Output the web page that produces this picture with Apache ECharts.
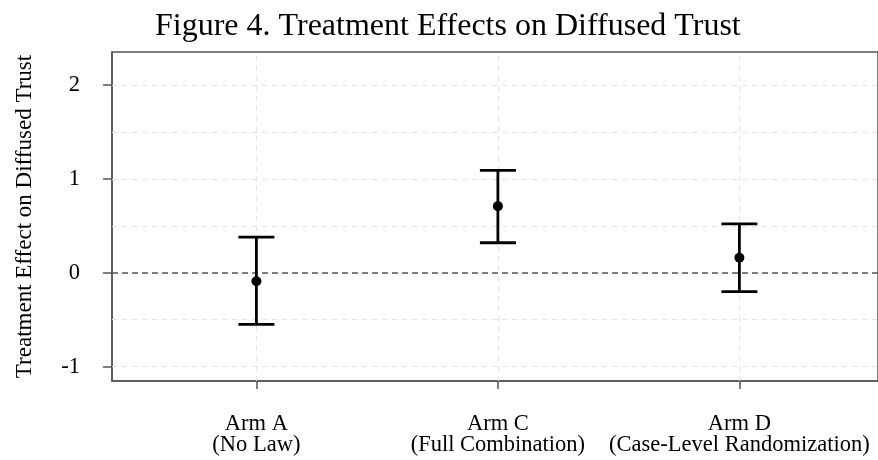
<!DOCTYPE html>
<html>
<head>
<meta charset="utf-8">
<script src="https://cdn.jsdelivr.net/npm/echarts@6/dist/echarts.min.js"></script>
<style>
  html, body { margin: 0; padding: 0; background: #fff; }
  #chart { width: 878px; height: 460px; }
</style>
</head>
<body>
<div id="chart"></div>
<script>
// Data
const categories = ["Arm A\n(No Law)", "Arm C\n(Full Combination)", "Arm D\n(Case-Level Randomization)"];
const positions = [1, 2, 3];
const estimates = [-0.09, 0.71, 0.16];
const lowers = [-0.55, 0.32, -0.2];
const uppers = [0.38, 1.09, 0.52];
const yTicks = [-1, 0, 1, 2];
const yGrid = [-1, -0.5, 0.5, 1, 1.5, 2];

const serif = "'Liberation Serif', 'Times New Roman', serif";
const chart = echarts.init(document.getElementById("chart"));

const option = {
  animation: false,
  title: {
    text: "Figure 4. Treatment Effects on Diffused Trust",
    left: 155,
    top: 11,
    padding: 0,
    textStyle: { fontFamily: serif, fontSize: 32, fontWeight: "normal", color: "#000" },
  },
  grid: {
    left: 112,
    right: -2,
    top: 52,
    bottom: 79,
    show: true,
    borderColor: "#555",
    borderWidth: 1.5,
  },
  xAxis: {
    type: "value",
    min: 0.402,
    max: 3.574,
    axisLine: { show: true, onZero: false, lineStyle: { color: "#555", width: 1.5 } },
    axisTick: { show: true, length: 8, customValues: positions, lineStyle: { color: "#555", width: 1.5 } },
    axisLabel: {
      customValues: positions,
      margin: 32,
      fontFamily: serif,
      fontSize: 22.5,
      lineHeight: 21.5,
      color: "#000",
      formatter: (v) => categories[positions.indexOf(v)] ?? "",
    },
    splitLine: { show: false },
  },
  yAxis: {
    type: "value",
    min: -1.153,
    max: 2.352,
    name: "Treatment Effect on Diffused Trust",
    nameLocation: "middle",
    nameGap: 76,
    nameTextStyle: { fontFamily: serif, fontSize: 23, color: "#000" },
    axisLine: { show: true, onZero: false, lineStyle: { color: "#555", width: 1.5 } },
    axisTick: { show: true, length: 9, customValues: yTicks, lineStyle: { color: "#555", width: 1.5 } },
    axisLabel: {
      customValues: yTicks,
      margin: 32,
      fontFamily: serif,
      fontSize: 22.5,
      color: "#000",
    },
    splitLine: { show: false },
  },
  series: [
    {
      // background grid lines
      type: "scatter",
      data: [],
      z: 1,
      markLine: {
        silent: true,
        z: 1,
        symbol: "none",
        animation: false,
        label: { show: false },
        lineStyle: { color: "#e3e3e3", width: 1, type: [5, 5] },
        data: [
          ...yGrid.map((v) => ({ yAxis: v })),
          ...positions.map((v) => ({ xAxis: v })),
        ],
      },
    },
    {
      // reference line at zero
      type: "scatter",
      data: [],
      z: 2,
      markLine: {
        silent: true,
        z: 2,
        symbol: "none",
        animation: false,
        label: { show: false },
        lineStyle: { color: "#555", width: 1.5, type: [6, 4] },
        data: [{ yAxis: 0 }],
      },
    },
    {
      type: "custom",
      z: 10,
      data: positions.map((p, i) => [p, lowers[i], uppers[i]]),
      renderItem: (params, api) => {
        const lo = api.coord([api.value(0), api.value(1)]);
        const hi = api.coord([api.value(0), api.value(2)]);
        const hw = 18;
        const style = { stroke: "#000", lineWidth: 2.8 };
        return {
          type: "group",
          children: [
            { type: "line", shape: { x1: lo[0], y1: lo[1], x2: hi[0], y2: hi[1] }, style },
            { type: "line", shape: { x1: hi[0] - hw, y1: hi[1], x2: hi[0] + hw, y2: hi[1] }, style },
            { type: "line", shape: { x1: lo[0] - hw, y1: lo[1], x2: lo[0] + hw, y2: lo[1] }, style },
          ],
        };
      },
    },
    {
      type: "scatter",
      z: 11,
      symbol: "circle",
      symbolSize: 10,
      itemStyle: { color: "#000", opacity: 1 },
      data: positions.map((p, i) => [p, estimates[i]]),
    },
  ],
};

chart.setOption(option);
</script>
</body>
</html>
